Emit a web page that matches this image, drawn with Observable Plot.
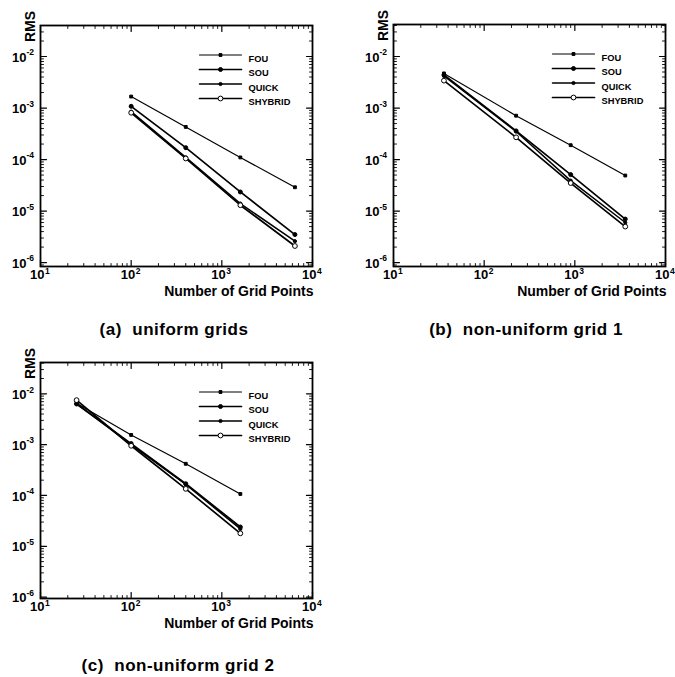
<!DOCTYPE html>
<html><head><meta charset="utf-8">
<script src="https://cdn.jsdelivr.net/npm/d3@7"></script>
<script src="https://cdn.jsdelivr.net/npm/@observablehq/plot@0.6"></script>
<style>
html,body{margin:0;padding:0;background:#fff;overflow:hidden}
#wrap{position:relative;width:675px;height:677px;font-family:"Liberation Sans",Arial,Helvetica,sans-serif;color:#000}
.panel{position:absolute}
.cap{position:absolute;font-weight:bold;font-size:17px;letter-spacing:0.5px;white-space:pre;transform:translate(-50%,-50%)}
</style></head><body><div id="wrap"></div>
<script>
// ---- data ----
const series = ["FOU", "SOU", "QUICK", "SHYBRID"];

const gridA = [100, 400, 1600, 6400];
const fouA = [1.67e-3, 4.3e-4, 1.1e-4, 2.9e-5];
const souA = [1.08e-3, 1.7e-4, 2.35e-5, 3.5e-6];
const quickA = [8.5e-4, 1.1e-4, 1.4e-5, 2.6e-6];
const shybridA = [8.1e-4, 1.05e-4, 1.3e-5, 2.1e-6];

const gridB = [36, 225, 900, 3600];
const fouB = [4.7e-3, 7.1e-4, 1.9e-4, 4.9e-5];
const souB = [4.4e-3, 3.6e-4, 5.1e-5, 7.0e-6];
const quickB = [4.2e-3, 3.5e-4, 3.9e-5, 6.0e-6];
const shybridB = [3.4e-3, 2.7e-4, 3.5e-5, 5.0e-6];

const gridC = [25, 100, 400, 1600];
const fouC = [6.5e-3, 1.55e-3, 4.2e-4, 1.07e-4];
const souC = [6.3e-3, 1.05e-3, 1.7e-4, 2.4e-5];
const quickC = [6.4e-3, 1.0e-3, 1.65e-4, 2.2e-5];
const shybridC = [7.5e-3, 9.5e-4, 1.35e-4, 1.8e-5];

const xTickValues = [10, 100, 1000, 10000];
const xTickExps = ["1", "2", "3", "4"];
const yTickValues = [1e-6, 1e-5, 1e-4, 1e-3, 1e-2];
const yTickExps = ["-6", "-5", "-4", "-3", "-2"];

const captions = ["(a)  uniform grids", "(b)  non-uniform grid 1", "(c)  non-uniform grid 2"];
const xTitle = "Number of Grid Points";
const yTitle = "RMS";

// ---- styles ----
const FONT = "'Liberation Sans', Arial, Helvetica, sans-serif";
const lineStyle = {
  FOU: {sw: 1.2, symbol: "square", r: 1.6, fill: "black"},
  SOU: {sw: 1.7, symbol: "circle", r: 2.0, fill: "black"},
  QUICK: {sw: 1.5, symbol: "circle", r: 1.6, fill: "black"},
  SHYBRID: {sw: 1.7, symbol: "circle", r: 2.4, fill: "white"}
};
const tickShape = {draw(ctx, l) { ctx.moveTo(0, 0); ctx.lineTo(0, -l); }};

function minorTicks(domain) {
  const out = [];
  const lo = Math.floor(Math.log10(domain[0])), hi = Math.ceil(Math.log10(domain[1]));
  for (let e = lo; e <= hi; e++) for (let k = 2; k <= 9; k++) {
    const v = k * Math.pow(10, e);
    if (v > domain[0] && v < domain[1]) out.push(v);
  }
  return out;
}

function edgeTicks(xs, ys, len, sw) {
  const o = {length: len, anchor: "start", shape: tickShape, stroke: "black", strokeWidth: sw};
  return [
    Plot.vector(ys, {...o, y: d => d, frameAnchor: "left", rotate: 90}),
    Plot.vector(ys, {...o, y: d => d, frameAnchor: "right", rotate: -90}),
    Plot.vector(xs, {...o, x: d => d, frameAnchor: "bottom", rotate: 0}),
    Plot.vector(xs, {...o, x: d => d, frameAnchor: "top", rotate: 180})
  ];
}

function panel(cfg) {
  const xDomain = [10, 10000];
  const rows = [];
  cfg.vals.forEach((arr, si) => arr.forEach((v, i) => rows.push({scheme: series[si], n: cfg.grid[i], rms: v})));
  const marks = [];
  // data lines and markers
  series.forEach(s => {
    const st = lineStyle[s];
    const d = rows.filter(r => r.scheme === s);
    marks.push(Plot.line(d, {x: "n", y: "rms", stroke: "black", strokeWidth: st.sw}));
  });
  series.forEach(s => {
    const st = lineStyle[s];
    const d = rows.filter(r => r.scheme === s);
    marks.push(Plot.dot(d, {x: "n", y: "rms", symbol: st.symbol, r: st.r, fill: st.fill, stroke: "black", strokeWidth: 1}));
  });
  // frame and ticks
  marks.push(Plot.frame({stroke: "black", strokeWidth: 1.8}));
  marks.push(...edgeTicks(xTickValues, yTickValues, 6, 1.2));
  marks.push(...edgeTicks(minorTicks(xDomain), minorTicks(cfg.yDomain), 3, 0.9));
  // tick labels
  const tl = {fontWeight: "bold", fill: "black"};
  marks.push(Plot.text(xTickValues, {...tl, x: d => d, text: () => "10", frameAnchor: "bottom", textAnchor: "end", dx: 4, dy: 12, fontSize: 13}));
  marks.push(Plot.text(xTickValues, {...tl, x: d => d, text: (d, i) => xTickExps[i], frameAnchor: "bottom", textAnchor: "start", dx: 4.5, dy: 7, fontSize: 8.5}));
  marks.push(Plot.text(yTickValues, {...tl, y: d => d, text: () => "10", frameAnchor: "left", textAnchor: "end", dx: -14, dy: 1, fontSize: 13}));
  marks.push(Plot.text(yTickValues, {...tl, y: d => d, text: (d, i) => yTickExps[i], frameAnchor: "left", textAnchor: "start", dx: -14, dy: -4, fontSize: 8.5}));
  // axis titles
  marks.push(Plot.text([yTitle], {...tl, frameAnchor: "top-left", rotate: -90, dx: -15, dy: 1, fontSize: 14, textAnchor: "middle"}));
  marks.push(Plot.text([xTitle], {...tl, frameAnchor: "bottom-right", textAnchor: "end", dx: 1, dy: 29, fontSize: 14}));
  // legend
  series.forEach((s, i) => {
    const st = lineStyle[s];
    const dy = 29.5 + i * 14.5;
    marks.push(Plot.vector([s], {frameAnchor: "top-left", dx: 159, dy, rotate: 90, length: 42, anchor: "start", shape: tickShape, stroke: "black", strokeWidth: st.sw}));
    marks.push(Plot.dot([s], {frameAnchor: "top-left", dx: 180, dy, symbol: st.symbol, r: st.r, fill: st.fill, stroke: "black", strokeWidth: 1}));
    marks.push(Plot.text([s], {...tl, frameAnchor: "top-left", dx: 208, dy, textAnchor: "start", fontSize: 9.3, text: d => d}));
  });
  return Plot.plot({
    width: cfg.width, height: cfg.height,
    marginLeft: cfg.ml, marginRight: cfg.mr, marginTop: cfg.mt, marginBottom: cfg.mb,
    x: {type: "log", domain: xDomain, axis: null},
    y: {type: "log", domain: cfg.yDomain, axis: null},
    style: {fontFamily: FONT, background: "transparent", overflow: "visible"},
    marks
  });
}

const wrap = document.getElementById("wrap");
const cfgs = [
  {left: 0, top: 0, width: 340, height: 310, ml: 40, mr: 28, mt: 25, mb: 44, yDomain: [8.4e-7, 4.0e-2], grid: gridA, vals: [fouA, souA, quickA, shybridA]},
  {left: 340, top: 0, width: 335, height: 310, ml: 53, mr: 10, mt: 24, mb: 44, yDomain: [8.4e-7, 4.18e-2], grid: gridB, vals: [fouB, souB, quickB, shybridB]},
  {left: 0, top: 337, width: 340, height: 305, ml: 40, mr: 28, mt: 25, mb: 44, yDomain: [9.4e-7, 4.13e-2], grid: gridC, vals: [fouC, souC, quickC, shybridC]}
];
const capPos = [[174, 330], [526, 330], [178, 666]];
cfgs.forEach((c, i) => {
  const div = document.createElement("div");
  div.className = "panel";
  div.style.left = c.left + "px";
  div.style.top = c.top + "px";
  div.appendChild(panel(c));
  wrap.appendChild(div);
  const cap = document.createElement("div");
  cap.className = "cap";
  cap.textContent = captions[i];
  cap.style.left = capPos[i][0] + "px";
  cap.style.top = capPos[i][1] + "px";
  wrap.appendChild(cap);
});
</script>
</body></html>
